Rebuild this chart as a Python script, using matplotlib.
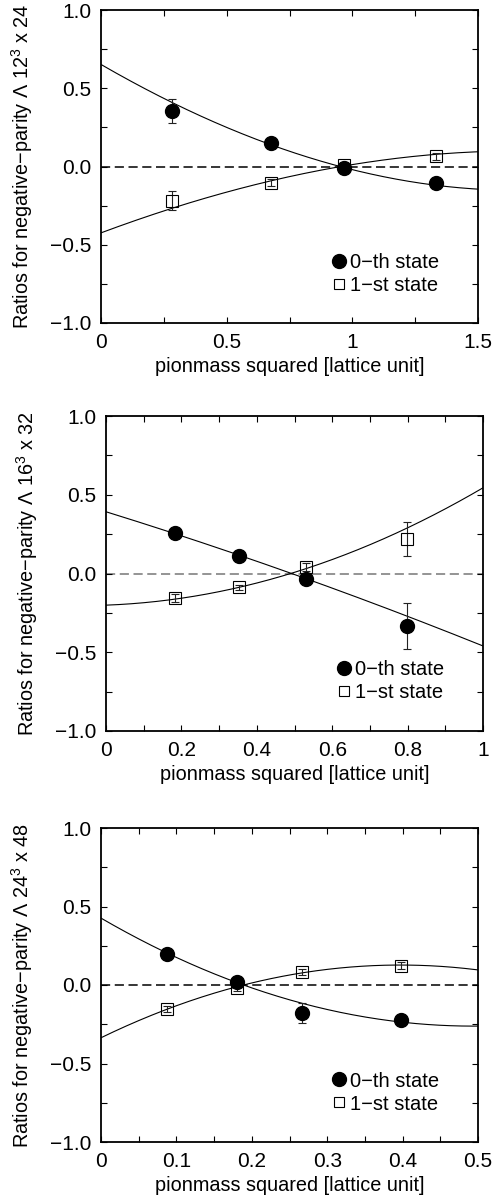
import numpy as np
import matplotlib.pyplot as plt
from matplotlib.lines import Line2D
from matplotlib.ticker import FixedLocator, MultipleLocator

plt.rcParams['font.family'] = ['Liberation Sans', 'DejaVu Sans']
plt.rcParams['mathtext.fontset'] = 'custom'
plt.rcParams['mathtext.rm'] = 'Liberation Sans'

# ---------------------------------------------------------------
# data: pion mass squared, ratios and errors for each lattice
# ---------------------------------------------------------------
# 12^3 x 24
mpi2_12 = [0.284, 0.678, 0.966, 1.334]
r0_12 = [0.355, 0.150, -0.010, -0.106]
e0_12 = [0.078, 0.015, 0.015, 0.015]
r1_12 = [-0.219, -0.104, 0.008, 0.066]
e1_12 = [0.062, 0.022, 0.020, 0.022]
fit0_12 = [0.652, -0.928, 0.2385, 0.0174]    # polynomial coefficients, low -> high
fit1_12 = [-0.424, 0.5988, -0.150, -0.0126]

# 16^3 x 32
mpi2_16 = [0.183, 0.354, 0.531, 0.798]
r0_16 = [0.260, 0.112, -0.033, -0.333]
e0_16 = [0.015, 0.015, 0.015, 0.145]
r1_16 = [-0.153, -0.088, 0.043, 0.220]
e1_16 = [0.025, 0.018, 0.025, 0.108]
fit0_16 = [0.392, -0.742, -0.110]
fit1_16 = [-0.201, 0.089, 0.656]

# 24^3 x 48
mpi2_24 = [0.087, 0.180, 0.267, 0.398]
r0_24 = [0.198, 0.018, -0.181, -0.223]
e0_24 = [0.015, 0.015, 0.064, 0.022]
r1_24 = [-0.153, -0.021, 0.083, 0.123]
e1_24 = [0.022, 0.018, 0.022, 0.022]
fit0_24 = [0.426, -2.787, 2.823]
fit1_24 = [-0.336, 2.333, -2.938]

panels = [
    dict(x=mpi2_12, r0=r0_12, e0=e0_12, r1=r1_12, e1=e1_12, f0=fit0_12, f1=fit1_12,
         xmax=1.5, xticks=[0, 0.5, 1, 1.5], xlabels=['0', '0.5', '1', '1.5'], xminor=0.25,
         vol='12$^3$ x 24', pos=[101, 10, 478, 323], dash='black'),
    dict(x=mpi2_16, r0=r0_16, e0=e0_16, r1=r1_16, e1=e1_16, f0=fit0_16, f1=fit1_16,
         xmax=1.0, xticks=[0, 0.2, 0.4, 0.6, 0.8, 1], xlabels=['0', '0.2', '0.4', '0.6', '0.8', '1'],
         xminor=0.1, vol='16$^3$ x 32', pos=[106, 416, 483, 731], dash='#777777'),
    dict(x=mpi2_24, r0=r0_24, e0=e0_24, r1=r1_24, e1=e1_24, f0=fit0_24, f1=fit1_24,
         xmax=0.5, xticks=[0, 0.1, 0.2, 0.3, 0.4, 0.5], xlabels=['0', '0.1', '0.2', '0.3', '0.4', '0.5'],
         xminor=0.05, vol='24$^3$ x 48', pos=[101, 828, 478, 1142], dash='black'),
]

W, H = 493, 1201
fig = plt.figure(figsize=(W / 100, H / 100), dpi=100)

for p in panels:
    l, t, r, b = p['pos']
    ax = fig.add_axes([l / W, 1 - b / H, (r - l) / W, (b - t) / H])

    xx = np.linspace(0, p['xmax'], 300)
    ax.plot(xx, np.polynomial.polynomial.polyval(xx, p['f0']), color='black', lw=0.8, zorder=2)
    ax.plot(xx, np.polynomial.polynomial.polyval(xx, p['f1']), color='black', lw=0.8, zorder=2)
    ax.axhline(0, color=p['dash'], lw=1.1, ls=(0, (6, 3)), zorder=1)

    ax.errorbar(p['x'], p['r1'], yerr=p['e1'], fmt='s', ms=8, mfc='none', mec='black',
                mew=0.8, ecolor='#222222', elinewidth=0.8, capsize=3, capthick=0.8, zorder=3)
    ax.errorbar(p['x'], p['r0'], yerr=p['e0'], fmt='o', ms=10, mfc='black', mec='black',
                ecolor='#222222', elinewidth=0.8, capsize=3, capthick=0.8, zorder=4)

    ax.set_xlim(0, p['xmax'])
    ax.set_ylim(-1, 1)
    ax.xaxis.set_major_locator(FixedLocator(p['xticks']))
    ax.set_xticklabels(p['xlabels'])
    ax.xaxis.set_minor_locator(MultipleLocator(p['xminor']))
    ax.set_yticks([-1, -0.5, 0, 0.5, 1])
    ax.set_yticklabels(['\u22121.0', '\u22120.5', '0.0', '0.5', '1.0'])
    ax.yaxis.set_minor_locator(MultipleLocator(0.25))
    ax.tick_params(which='both', direction='in', top=True, right=True, length=4.5,
                   width=0.8, labelsize=15, pad=7)
    for s in ax.spines.values():
        s.set_linewidth(1.3)

    ax.set_xlabel('pionmass squared [lattice unit]', fontsize=14.3, labelpad=4)
    ax.set_ylabel('Ratios for negative\u2212parity \u039b ' + p['vol'], fontsize=14.3, labelpad=11)

    handles = [Line2D([], [], ls='none', marker='o', ms=10, mfc='black', mec='black'),
               Line2D([], [], ls='none', marker='s', ms=7, mfc='none', mec='black', mew=0.8)]
    ax.legend(handles, ['0\u2212th state', '1\u2212st state'], loc='lower left',
              bbox_to_anchor=(0.59, 0.065), frameon=False, fontsize=14.5, handlelength=0.7,
              handletextpad=0.2, labelspacing=0.2, borderaxespad=0)

fig.savefig('out.png', dpi=100)
